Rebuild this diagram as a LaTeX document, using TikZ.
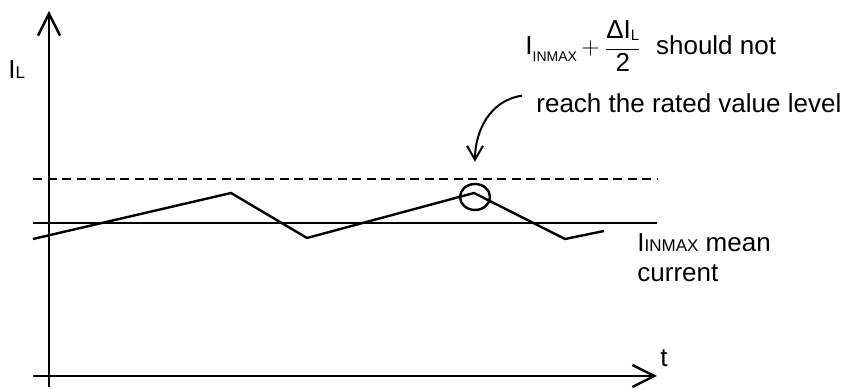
\documentclass[tikz,border=0pt]{standalone}
\usepackage{fontspec}
\setmainfont{Liberation Sans}
\usetikzlibrary{arrows.meta,shapes.geometric}
\definecolor{paper}{HTML}{FFFFFF}
\definecolor{ink}{HTML}{000000}

\begin{document}
\begin{tikzpicture}[x=0.5pt, y=0.5pt, text=ink, font=\fontsize{13}{15}\selectfont,
    axis/.style={-{Straight Barb[length=11pt, width=11pt]}, line width=1.2pt, draw=ink},
    level/.style={line width=1.2pt, draw=ink},
    wave/.style={line width=1.2pt, draw=ink, line join=miter},
    lbl/.style={inner sep=0pt, anchor=base west},
    pointer/.style={-{Straight Barb[length=7pt, width=8pt]}, line width=1pt, draw=ink}]
  % canvas (same proportions as the sheet)
  \fill[paper] (0,0) rectangle (845,387);

  % ---------------- axes
  \coordinate (yfoot) at (49,0);
  \coordinate (ytop) at (49,376);
  \coordinate (xfoot) at (33,11);
  \coordinate (xend) at (657,11);
  \draw[axis] (yfoot) -- (ytop);
  \draw[axis] (xfoot) -- (xend);
  \node[lbl] (ilab) at (8,308) {I{\fontsize{8.5}{9}\selectfont L}};
  \node[inner sep=0pt, anchor=base] (tlab) at (664,20) {t};

  % ---------------- levels: rated value (dashed) and mean current
  \draw[level, dash pattern=on 4.5pt off 2.75pt] (33,208) -- (657,208);
  \draw[level] (33,164) -- (657,164);

  % ---------------- inductor current ripple
  \draw[wave] (33,148) -- (231,194) -- (307,149) -- (474,194) -- (565,148) -- (604,156);
  \node[draw=ink, ellipse, line width=1.2pt, inner sep=0pt, minimum width=15pt, minimum height=13pt] (peakmark) at (475,190) {};

  % ---------------- notes
  \node[lbl] (limit) at (525,332)
       {I\raisebox{-3.5pt}{\fontsize{7}{8}\selectfont INMAX}\,$+$\,$\displaystyle\frac{\mbox{\fontsize{13}{15}\selectfont ΔI\raisebox{-1pt}{\fontsize{7.5}{8}\selectfont L}}}{\mbox{\fontsize{13}{15}\selectfont 2}}$\ \ should not};
  \node[lbl] (reach) at (536,274) {reach the rated value level};
  \node[lbl] (meanlab) at (637,135) {I{\fontsize{8.5}{9}\selectfont INMAX} mean};
  \node[lbl] (meancur) at (637,105) {current};

  % ---------------- pointer to the peak
  \draw[pointer] ([shift={(-7pt,4pt)}]reach.west) to[out=188, in=90] ([yshift=10.5pt]peakmark.north);
\end{tikzpicture}
\end{document}
